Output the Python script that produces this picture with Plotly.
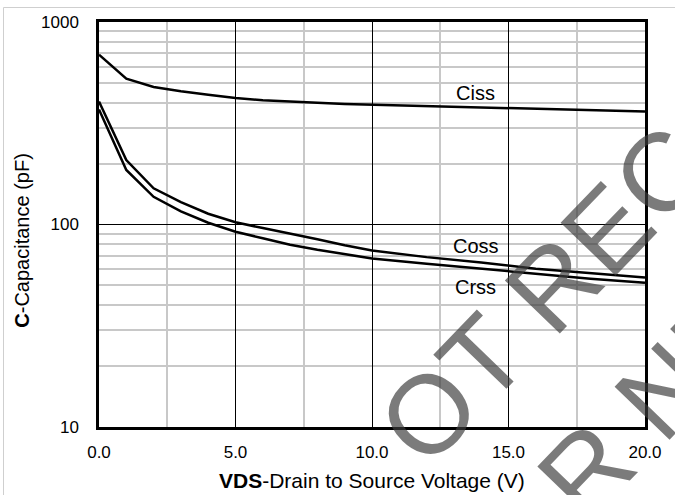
import math
import plotly.graph_objects as go

# ---- data ----
vds = [0, 1, 2, 3, 4, 5, 6, 7, 8, 9, 10, 12, 14, 16, 18, 20]
ciss = [690, 525, 478, 455, 437, 421, 411, 404, 399, 394, 391, 385, 379, 373, 367, 361]
coss = [405, 208, 151, 129, 113, 102.6, 96, 90.4, 84.5, 79, 74.5, 69, 65, 60.5, 57.5, 54.8]
crss = [370, 186, 137, 116, 102, 92.1, 85.5, 79.5, 75, 71.3, 68, 64, 60.5, 56.8, 54, 51.5]

x_ticks = [0, 5, 10, 15, 20]
x_minor = [2.5, 7.5, 12.5, 17.5]
y_ticks = [10, 100, 1000]
y_minor = [20, 30, 40, 50, 60, 70, 80, 90, 200, 300, 400, 500, 600, 700, 800, 900]

labels = ["Ciss", "Coss", "Crss"]
label_x = [13.8, 13.8, 13.8]
label_y = [448, 78, 49]

FONT = "Liberation Sans, Arial, sans-serif"
HIDE = '<span style="color:rgba(0,0,0,0)">{}</span>'

fig = go.Figure()
for ys in (ciss, coss, crss):
    fig.add_trace(go.Scatter(x=vds, y=ys, mode="lines",
                             line=dict(color="black", width=2.5),
                             showlegend=False, hoverinfo="skip"))

for t, lx, ly in zip(labels, label_x, label_y):
    fig.add_annotation(x=lx, y=math.log10(ly), xref="x", yref="y", yanchor="middle",
                       text=t, showarrow=False,
                       font=dict(family=FONT, size=20, color="black"))

# axis titles
fig.add_annotation(x=0.5, y=-0.133, xref="paper", yref="paper",
                   text="<b>VDS</b>-Drain to Source Voltage (V)", showarrow=False,
                   font=dict(family=FONT, size=21, color="black"),
                   xanchor="center", yanchor="middle")
fig.add_annotation(x=-0.141, y=0.46, xref="paper", yref="paper",
                   text="<b>C</b>-Capacitance (pF)", showarrow=False, textangle=-90,
                   font=dict(family=FONT, size=20, color="black"),
                   xanchor="center", yanchor="middle")

# watermark
wm_font = dict(family=FONT, size=111, color="rgba(60,60,60,0.68)")
fig.add_annotation(x=(745 - 99) / 546, y=(427 - 87) / 405, xref="paper", yref="paper",
                   text=HIDE.format("N") + "OT RECOMMENDED", showarrow=False, textangle=-46,
                   font=wm_font, xanchor="center", yanchor="middle")
fig.add_annotation(x=(792 - 99) / 546, y=(427 - 258) / 405, xref="paper", yref="paper",
                   text=HIDE.format("FO") + "R NEW DESIGN", showarrow=False, textangle=-46,
                   font=wm_font, xanchor="center", yanchor="middle")

# outer light frame
fig.add_shape(type="rect", xref="paper", yref="paper",
              x0=(3.5 - 99) / 546, x1=(700 - 99) / 546,
              y0=(427 - 520) / 405, y1=(427 - 7.5) / 405,
              line=dict(color="#cfcfcf", width=1), layer="above")

fig.update_xaxes(range=[0, 20], tickvals=x_ticks, tickformat=".1f",
                 showgrid=True, gridcolor="black", gridwidth=1,
                 showline=True, linecolor="black", linewidth=2.5, mirror=True,
                 zeroline=False, ticks="outside", ticklen=8, tickcolor="rgba(0,0,0,0)",
                 tickfont=dict(family=FONT, size=17, color="black"),
                 minor=dict(tickvals=x_minor, showgrid=True, gridcolor="#c8c8c8", gridwidth=1.5))
fig.update_yaxes(type="log", range=[1, 3], tickvals=y_ticks,
                 showgrid=True, gridcolor="black", gridwidth=1,
                 showline=True, linecolor="black", linewidth=2.5, mirror=True,
                 zeroline=False, ticks="outside", ticklen=14, tickcolor="rgba(0,0,0,0)",
                 tickfont=dict(family=FONT, size=17, color="black"),
                 minor=dict(tickvals=y_minor, showgrid=True, gridcolor="#c8c8c8", gridwidth=1.5))

fig.update_layout(width=675, height=495,
                  margin=dict(l=99, r=30, t=22, b=68),
                  paper_bgcolor="white", plot_bgcolor="white",
                  font=dict(family=FONT))

fig.write_html("out.html", config={"displayModeBar": False},
               post_script="document.body.style.margin='0';document.body.style.overflow='hidden';")
